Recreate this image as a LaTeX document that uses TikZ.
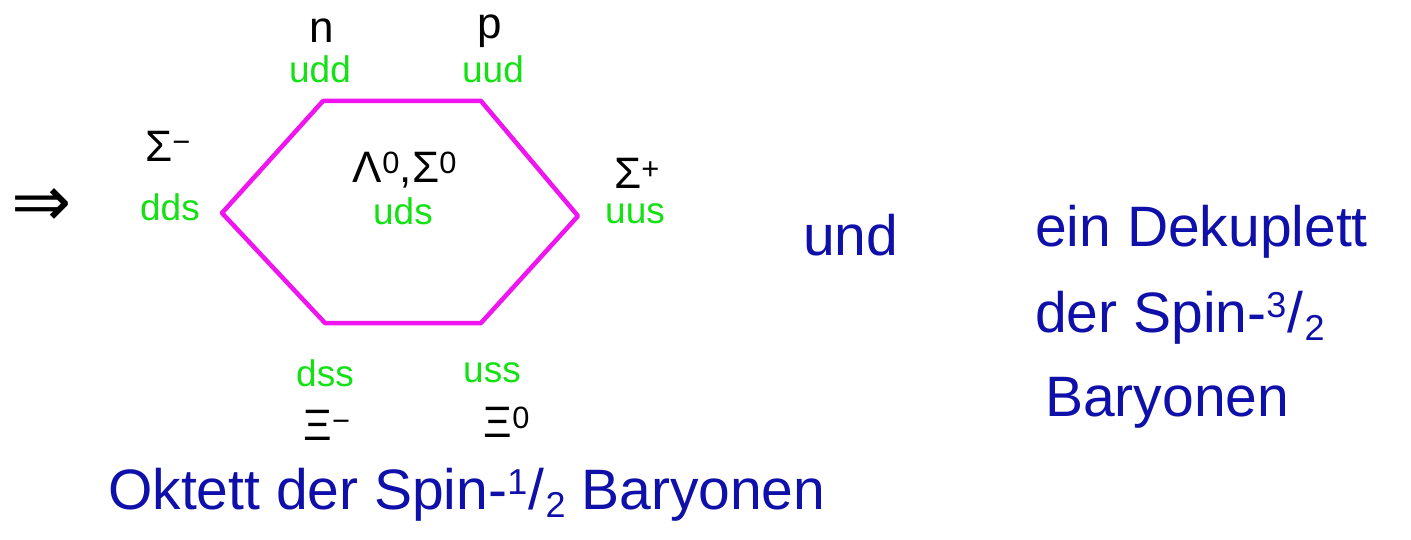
\documentclass[tikz,border=0pt]{standalone}
\usepackage{fontspec}
\setmainfont{Liberation Sans}
\newfontfamily\arrowfont{DejaVu Sans}
\definecolor{hexmag}{RGB}{240,20,240}
\definecolor{qgreen}{RGB}{20,225,20}
\definecolor{inkblue}{RGB}{15,15,170}
\newcommand{\myfrac}[2]{\raisebox{0.5ex}{\fontsize{36}{36}\selectfont #1}\kern0.02em/\kern0.02em\raisebox{-0.25ex}{\fontsize{36}{36}\selectfont #2}}
\begin{document}
\begin{tikzpicture}[x=1pt,y=-1pt,
  particle/.style={text=black,font=\fontsize{44}{46}\selectfont,inner sep=0pt},
  quark/.style={text=qgreen,font=\fontsize{37}{38}\selectfont,inner sep=0pt},
  note/.style={text=inkblue,font=\fontsize{57}{58}\selectfont,inner sep=0pt,anchor=west},
  hexline/.style={draw=hexmag,line width=4.5pt,line join=round,line cap=round}]
\useasboundingbox (0,0) rectangle (1411,540);
% hexagon corners
\coordinate (tl) at (323,101);
\coordinate (tr) at (481,101);
\coordinate (r) at (578,216);
\coordinate (br) at (481,323);
\coordinate (bl) at (325,323);
\coordinate (l) at (222,213);
\draw[hexline] (tl) -- (tr) -- (r) -- (br) -- (bl) -- (l) -- cycle;
% labels
\node[particle] (n) at (322,31) {n};
\node[quark] (udd) at (320,69) {udd};
\node[particle] (p) at (490,31) {p};
\node[quark] (uud) at (493,69) {uud};
\node[particle] (sm) at (168,146) {Σ\textsuperscript{−}};
\node[quark] (dds) at (170,207) {dds};
\node[particle] (ls) at (405,170) {Λ\textsuperscript{0},Σ\textsuperscript{0}};
\node[quark] (uds) at (403,211) {uds};
\node[particle] (sp) at (637,173) {Σ\textsuperscript{+}};
\node[quark] (uus) at (635,214) {uus};
\node[quark] (dss) at (325,373) {dss};
\node[quark] (uss) at (492,373) {uss};
\node[particle] (xm) at (327,425) {Ξ\textsuperscript{−}};
\node[particle] (x0) at (507,422) {Ξ\textsuperscript{0}};
\node[text=black,font=\arrowfont\fontsize{72}{72}\selectfont,inner sep=0pt] (arr) at (42,208) {⇒};
% notes
\node[note] (okt) at (108,495) {Oktett der Spin-\myfrac{1}{2} Baryonen};
\node[note] (und) at (803,235) {und};
\node[note] (ein) at (1035,232) {ein Dekuplett};
\node[note] (der) at (1035,318) {der Spin-\myfrac{3}{2}};
\node[note] (bar) at (1045,403) {Baryonen};
\end{tikzpicture}
\end{document}
